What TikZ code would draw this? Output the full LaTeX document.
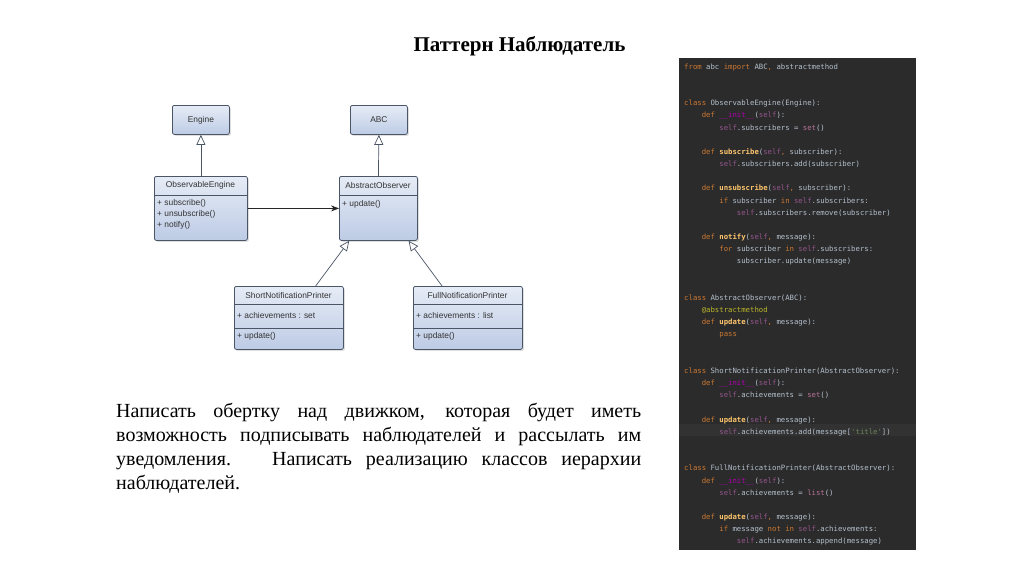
\documentclass[tikz,border=0pt]{standalone}
\usepackage{fontspec}
\setmainfont{Liberation Serif}
\setsansfont{Liberation Sans}
\setmonofont{DejaVu Sans Mono}
\usetikzlibrary{arrows.meta,shadows}

\definecolor{umltop}{HTML}{E6ECF6}
\definecolor{umlbot}{HTML}{BDCBE5}
\definecolor{umlline}{HTML}{4A5566}
\definecolor{umltxt}{HTML}{333333}
\definecolor{codebg}{HTML}{2B2B2B}
\definecolor{codeline}{HTML}{323232}
\definecolor{codetxt}{HTML}{B3BFCC}
\definecolor{codekw}{HTML}{CC7832}
\definecolor{codeself}{HTML}{94558D}
\definecolor{codefn}{HTML}{FFC66D}
\definecolor{codebi}{HTML}{B8739A}
\definecolor{codedec}{HTML}{BBB529}
\definecolor{codestr}{HTML}{6A8759}
\definecolor{codemag}{HTML}{B200B2}

\newcommand\pykw[1]{\textcolor{codekw}{#1}}
\newcommand\pyself[1]{\textcolor{codeself}{#1}}
\newcommand\pyfn[1]{\textcolor{codefn}{\bfseries #1}}
\newcommand\pybi[1]{\textcolor{codebi}{#1}}
\newcommand\pydec[1]{\textcolor{codedec}{#1}}
\newcommand\pystr[1]{\textcolor{codestr}{#1}}
\newcommand\pymag[1]{\textcolor{codemag}{#1}}
\newcommand\pyind{\hphantom{0000}}

\begin{document}
\begin{tikzpicture}[x=1pt,y=1pt,
  cls/.style={draw=umlline, line width=0.8pt, rounded corners=2pt,
    top color=umltop, bottom color=umlbot, anchor=north west, inner sep=0pt,
    drop shadow={opacity=0.25, shadow xshift=1.5pt, shadow yshift=-1.5pt},
    font=\sffamily\fontsize{8.4}{10}\selectfont, text=umltxt},
  hdr/.style={font=\sffamily\fontsize{8.4}{10}\selectfont, text=umltxt, inner sep=0pt},
  mem/.style={hdr, anchor=west},
  sep/.style={draw=umlline, line width=0.6pt},
  gen/.style={draw=umlline, line width=0.7pt, -{Triangle[open, length=10pt, width=9pt]}},
  assoc/.style={draw=black!85, line width=0.7pt, -{Stealth[length=8pt, width=6pt]}}]

\fill[white] (0,0) rectangle (1024,-574);
\useasboundingbox (0,0) rectangle (1024,-574);

\node[font=\bfseries\fontsize{21}{24}\selectfont] (title) at (519.5,-46) {Паттерн Наблюдатель};

% class diagram
\node[cls, minimum width=57, minimum height=29] (engine) at (172,-105) {Engine};
\node[cls, minimum width=57, minimum height=29] (abc) at (350,-105) {ABC};
\node[cls, minimum width=93, minimum height=64] (oe) at (154,-176) {};
\node[cls, minimum width=78, minimum height=64] (ao) at (339,-176) {};
\node[cls, minimum width=109, minimum height=63] (short) at (234,-286) {};
\node[cls, minimum width=109, minimum height=63] (full) at (413,-286) {};

\node[hdr] (oeT) at (200.5,-185.5) {ObservableEngine};
\draw[sep] (154,-195) -- (247,-195);
\node[mem] (oeA) at (157,-203.5) {+ subscribe()};
\node[mem] (oeB) at (157,-214.5) {+ unsubscribe()};
\node[mem] (oeC) at (157,-225.5) {+ notify()};

\node[hdr] (aoT) at (378,-185.5) {AbstractObserver};
\draw[sep] (339,-195) -- (417,-195);
\node[mem] (aoA) at (342,-204) {+ update()};

\node[hdr] (shortT) at (288.5,-295) {ShortNotificationPrinter};
\draw[sep] (234,-304) -- (343,-304);
\node[mem] (shortA) at (237,-315) {+ achievements : set};
\draw[sep] (234,-328) -- (343,-328);
\node[mem] (shortB) at (237,-336) {+ update()};

\node[hdr] (fullT) at (467.5,-295) {FullNotificationPrinter};
\draw[sep] (413,-304) -- (522,-304);
\node[mem] (fullA) at (416,-315) {+ achievements : list};
\draw[sep] (413,-328) -- (522,-328);
\node[mem] (fullB) at (416,-336) {+ update()};

\draw[gen] (oe.north) -- (engine.south);
\draw[gen] (ao.north) -- (abc.south);
\draw[assoc] (oe.east) -- (ao.west);
\draw[gen] (short.50) -- (ao.228);
\draw[gen] (full.129) -- (ao.313);

% task text
\node[anchor=north west, text width=525, align=justify, inner sep=0pt,
  font=\fontsize{20}{24}\selectfont] (task) at (116,-403)
  {Написать обертку над движком, которая будет иметь\linebreak
   возможность подписывать наблюдателей и рассылать им\linebreak
   уведомления. \hspace{8pt}Написать реализацию классов иерархии\linebreak
   наблюдателей.};

% code screenshot
\node[fill=codebg, minimum width=237, minimum height=492, anchor=north west, inner sep=0pt] (panel) at (679,-58) {};
\fill[codeline] (679,-424) rectangle (916,-436);
\node[anchor=north west, inner sep=0pt, align=left, text=codetxt,
  font=\ttfamily\fontsize{7.3}{12.17}\selectfont] (code) at (684,-63.5) {%
\pykw{from} abc \pykw{import} ABC\pykw{,} abstractmethod\\
~\\
~\\
\pykw{class} ObservableEngine(Engine):\\
\pyind\pykw{def} \pymag{\_\_init\_\_}(\pyself{self}):\\
\pyind\pyind\pyself{self}.subscribers = \pybi{set}()\\
~\\
\pyind\pykw{def} \pyfn{subscribe}(\pyself{self}\pykw{,} subscriber):\\
\pyind\pyind\pyself{self}.subscribers.add(subscriber)\\
~\\
\pyind\pykw{def} \pyfn{unsubscribe}(\pyself{self}\pykw{,} subscriber):\\
\pyind\pyind\pykw{if} subscriber \pykw{in} \pyself{self}.subscribers:\\
\pyind\pyind\pyind\pyself{self}.subscribers.remove(subscriber)\\
~\\
\pyind\pykw{def} \pyfn{notify}(\pyself{self}\pykw{,} message):\\
\pyind\pyind\pykw{for} subscriber \pykw{in} \pyself{self}.subscribers:\\
\pyind\pyind\pyind subscriber.update(message)\\
~\\
~\\
\pykw{class} AbstractObserver(ABC):\\
\pyind\pydec{@abstractmethod}\\
\pyind\pykw{def} \pyfn{update}(\pyself{self}\pykw{,} message):\\
\pyind\pyind\pykw{pass}\\
~\\
~\\
\pykw{class} ShortNotificationPrinter(AbstractObserver):\\
\pyind\pykw{def} \pymag{\_\_init\_\_}(\pyself{self}):\\
\pyind\pyind\pyself{self}.achievements = \pybi{set}()\\
~\\
\pyind\pykw{def} \pyfn{update}(\pyself{self}\pykw{,} message):\\
\pyind\pyind\pyself{self}.achievements.add(message[\pystr{'title'}])\\
~\\
~\\
\pykw{class} FullNotificationPrinter(AbstractObserver):\\
\pyind\pykw{def} \pymag{\_\_init\_\_}(\pyself{self}):\\
\pyind\pyind\pyself{self}.achievements = \pybi{list}()\\
~\\
\pyind\pykw{def} \pyfn{update}(\pyself{self}\pykw{,} message):\\
\pyind\pyind\pykw{if} message \pykw{not} \pykw{in} \pyself{self}.achievements:\\
\pyind\pyind\pyind\pyself{self}.achievements.append(message)};
\end{tikzpicture}
\end{document}
